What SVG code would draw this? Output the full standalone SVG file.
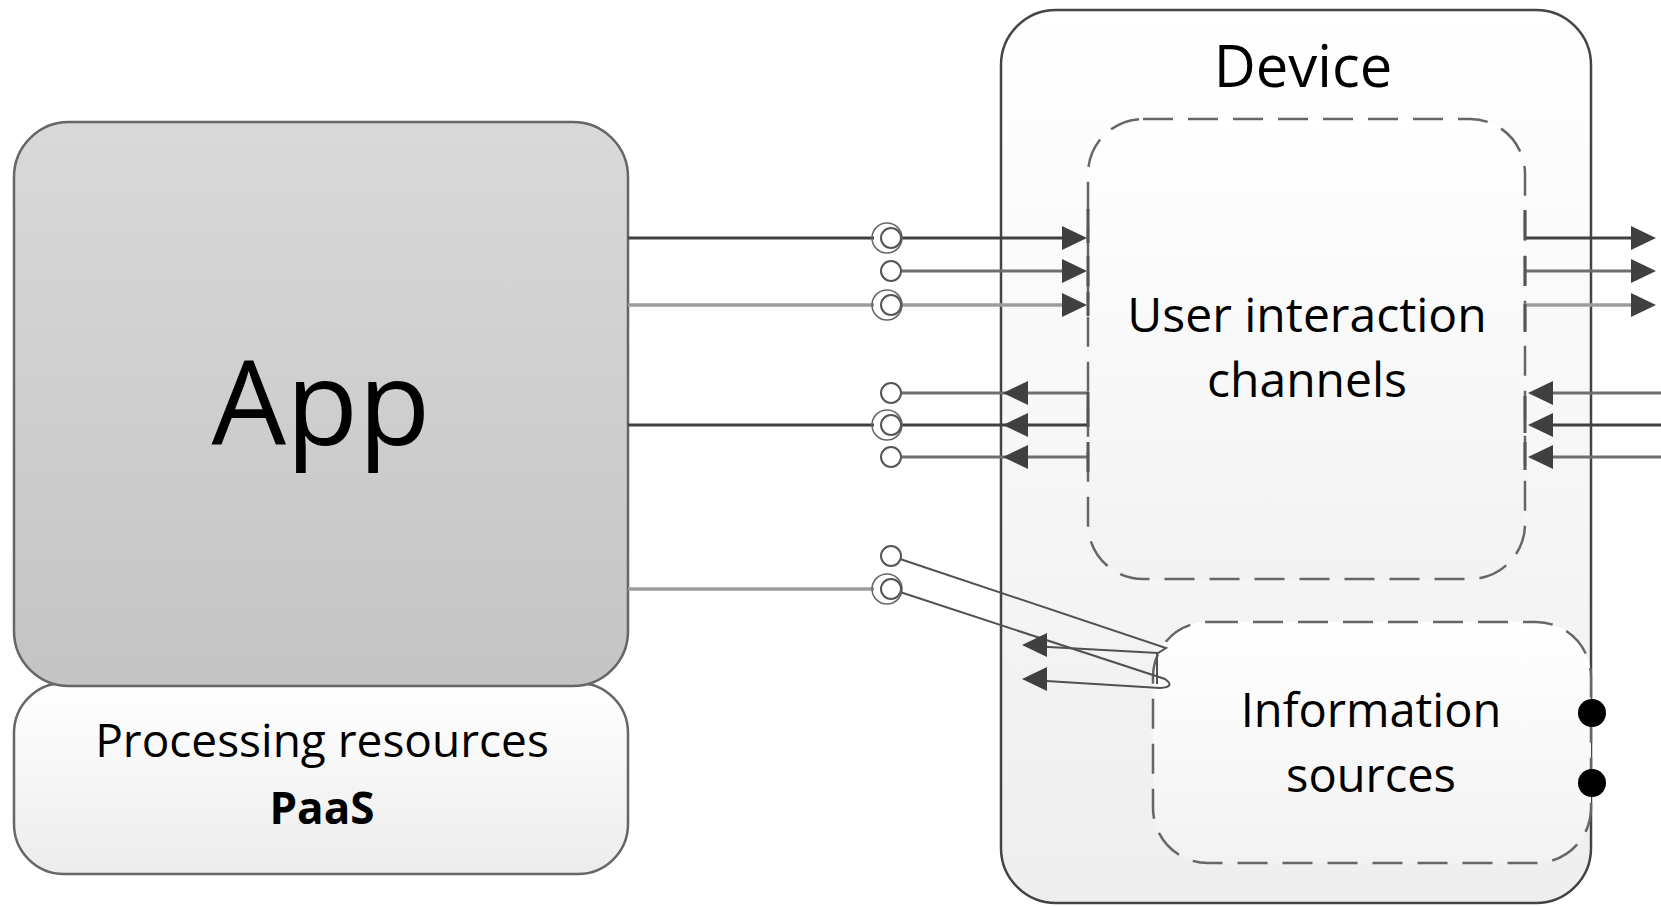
<svg xmlns="http://www.w3.org/2000/svg" width="1661" height="906" viewBox="0 0 1661 906">
  <defs>
    <linearGradient id="gApp" x1="0" y1="0" x2="0" y2="1">
      <stop offset="0" stop-color="#d9d9d9"/>
      <stop offset="1" stop-color="#c4c4c4"/>
    </linearGradient>
    <linearGradient id="gLight" x1="0" y1="0" x2="0" y2="1">
      <stop offset="0" stop-color="#ffffff"/>
      <stop offset="1" stop-color="#ececec"/>
    </linearGradient>
    <linearGradient id="gDevice" x1="0" y1="0" x2="0" y2="1">
      <stop offset="0" stop-color="#ffffff"/>
      <stop offset="1" stop-color="#eeeeee"/>
    </linearGradient>
    <linearGradient id="gInner" x1="0" y1="0" x2="0" y2="1">
      <stop offset="0" stop-color="#ffffff"/>
      <stop offset="1" stop-color="#f2f2f2"/>
    </linearGradient>
    <!-- arrowhead with its tip at the origin, pointing in +x -->
    <path id="ah" d="M0,0 L-25,-12 L-25,12 Z" fill="#404040"/>
  </defs>
  <style>
    .box { stroke: #666; stroke-width: 2.5; }
    .dash { stroke: #666; stroke-width: 2.5; stroke-dasharray: 30 15; fill: url(#gInner); }
    .lbl { font-family: "Open Sans", "Liberation Sans", sans-serif; fill: #000; text-anchor: middle; }
    .dk { stroke: #404040; stroke-width: 3; fill: none; }
    .md { stroke: #6e6e6e; stroke-width: 3; fill: none; }
    .lt { stroke: #9c9c9c; stroke-width: 3.5; fill: none; }
    .thin { stroke: #505050; stroke-width: 2; fill: none; }
    .tick { stroke: #555; stroke-width: 3; fill: none; }
    .port { fill: #fff; stroke: #555; stroke-width: 2; }
    .ring { fill: none; stroke: #666; stroke-width: 1.5; }
  </style>

  <!-- Processing resources (platform under the app) -->
  <g id="processing">
    <rect class="box" x="14" y="683" width="614" height="191" rx="50" fill="url(#gLight)"/>
    <text class="lbl" x="322" y="757" font-size="46">Processing resources</text>
    <text class="lbl" x="322" y="824" font-size="44" font-weight="bold">PaaS</text>
  </g>

  <!-- App -->
  <g id="app">
    <rect class="box" x="14" y="122" width="614" height="564" rx="55" fill="url(#gApp)"/>
    <text class="lbl" x="321" y="445" font-size="118">App</text>
  </g>

  <!-- Device container -->
  <g id="device">
    <rect x="1001" y="10" width="590" height="893" rx="55" fill="url(#gDevice)" stroke="#444" stroke-width="2.5"/>
    <text class="lbl" x="1303" y="87" font-size="58">Device</text>
  </g>

  <!-- User interaction channels -->
  <g id="uic">
    <rect class="dash" x="1088" y="119" width="437" height="460" rx="55"/>
    <text class="lbl" x="1307" y="332" font-size="48">User interaction</text>
    <text class="lbl" x="1307" y="397" font-size="48">channels</text>
  </g>

  <!-- Information sources -->
  <g id="info">
    <rect class="dash" x="1153" y="622" width="438" height="241" rx="55" fill="url(#gLight)"/>
    <text class="lbl" x="1371" y="727" font-size="47">Information</text>
    <text class="lbl" x="1371" y="792" font-size="47">sources</text>
  </g>

  <g id="connectors">
    <!-- app outputs -->
    <line class="dk" x1="628" y1="238" x2="874" y2="238"/>
    <line class="lt" x1="628" y1="305" x2="874" y2="305"/>
    <line class="dk" x1="628" y1="425" x2="874" y2="425"/>
    <line class="lt" x1="628" y1="589" x2="874" y2="589"/>

    <!-- into user interaction channels -->
    <line class="dk" x1="901" y1="238" x2="1080" y2="238"/>
    <line class="md" x1="901" y1="271" x2="1080" y2="271"/>
    <line class="lt" x1="901" y1="305" x2="1080" y2="305"/>
    <use href="#ah" transform="translate(1087,238)"/>
    <use href="#ah" transform="translate(1087,271)"/>
    <use href="#ah" transform="translate(1087,305)"/>
    <path class="tick" d="M1088,209 V243 M1088,256 V286 M1088,292 V316"/>

    <!-- out of user interaction channels -->
    <path class="md" d="M1087,393 H901"/>
    <path class="dk" d="M1087,425 H901"/>
    <path class="md" d="M1087,457 H901"/>
    <use href="#ah" transform="translate(1003,393) rotate(180)"/>
    <use href="#ah" transform="translate(1003,425) rotate(180)"/>
    <use href="#ah" transform="translate(1003,457) rotate(180)"/>
    <path class="tick" d="M1088,392 V427 M1088,442 V472"/>

    <!-- right side: user outputs -->
    <line class="dk" x1="1525" y1="238" x2="1650" y2="238"/>
    <line class="md" x1="1525" y1="271" x2="1650" y2="271"/>
    <line class="lt" x1="1525" y1="305" x2="1650" y2="305"/>
    <use href="#ah" transform="translate(1656,238)"/>
    <use href="#ah" transform="translate(1656,271)"/>
    <use href="#ah" transform="translate(1656,305)"/>
    <path class="tick" d="M1525,210 V240 M1525,256 V286 M1525,304 V332"/>

    <!-- right side: user inputs -->
    <line class="md" x1="1661" y1="393" x2="1535" y2="393"/>
    <line class="dk" x1="1661" y1="425" x2="1535" y2="425"/>
    <line class="md" x1="1661" y1="457" x2="1535" y2="457"/>
    <use href="#ah" transform="translate(1528,393) rotate(180)"/>
    <use href="#ah" transform="translate(1528,425) rotate(180)"/>
    <use href="#ah" transform="translate(1528,457) rotate(180)"/>
    <path class="tick" d="M1525,396 V433 M1525,442 V470"/>

    <!-- information sources loop back -->
    <path class="thin" d="M900,559 L1166,648 L1158,653 L1030,646"/>
    <path class="thin" d="M900,592 L1165,679 Q1176,687 1160,688 L1030,680"/>
    <path class="thin" d="M1157,653 V684"/>
    <use href="#ah" transform="translate(1022,645) rotate(180)"/>
    <use href="#ah" transform="translate(1022,679) rotate(180)"/>

    <!-- connection points -->
    <circle class="ring" cx="887" cy="238" r="15"/>
    <circle class="ring" cx="887" cy="305" r="15"/>
    <circle class="ring" cx="887" cy="425" r="15"/>
    <circle class="ring" cx="887" cy="589" r="15"/>
    <circle class="port" cx="891" cy="238" r="10"/>
    <circle class="port" cx="891" cy="271" r="10"/>
    <circle class="port" cx="891" cy="305" r="10"/>
    <circle class="port" cx="891" cy="393" r="10"/>
    <circle class="port" cx="891" cy="425" r="10"/>
    <circle class="port" cx="891" cy="457" r="10"/>
    <circle class="port" cx="891" cy="556" r="10"/>
    <circle class="port" cx="891" cy="589" r="10"/>
  </g>

  <!-- device-side ports of the information sources -->
  <g id="info-ports">
    <circle cx="1592" cy="713" r="14" fill="#000"/>
    <circle cx="1592" cy="783" r="14" fill="#000"/>
  </g>
</svg>
